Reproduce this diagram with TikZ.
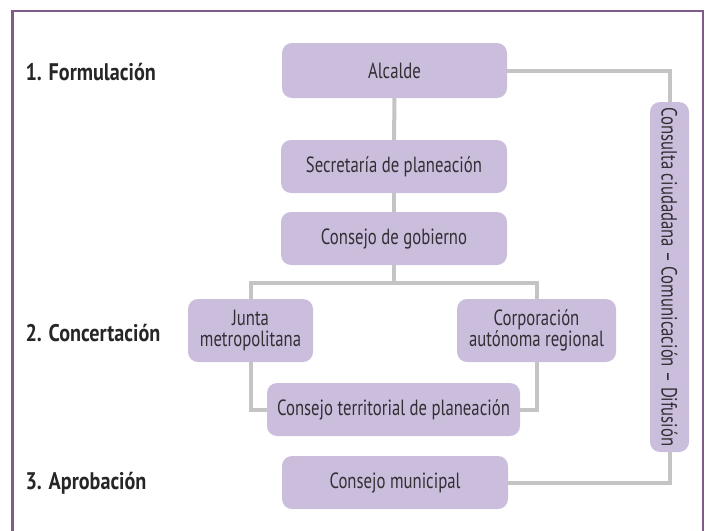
\documentclass[tikz,border=0pt]{standalone}
\usepackage{fontspec}
\setmainfont{PT Sans}[FakeStretch=0.76]
\newfontfamily\etapafont{PT Sans Bold}[FakeStretch=0.84]
\usetikzlibrary{calc,positioning}
\definecolor{PlanLila}{RGB}{203,190,221}
\definecolor{PlanGris}{RGB}{196,196,196}
\definecolor{PlanMarco}{RGB}{126,91,137}
\definecolor{PlanTexto}{RGB}{51,47,52}

\begin{document}
\begin{tikzpicture}[x=1pt,y=-1pt,
  caja/.style={fill=PlanLila,rounded corners=10pt,text=PlanTexto,font=\fontsize{22}{21}\selectfont,
    align=center,inner sep=0pt,minimum height=53pt},
  etapa/.style={anchor=west,text=black!85,font=\etapafont\fontsize{24}{26}\selectfont},
  enlace/.style={draw=PlanGris,line width=4pt}]
\useasboundingbox (0,0) rectangle (708,530);
\begin{scope}
\clip (0,0) rectangle (708,530);
\draw[PlanMarco,line width=2.5pt] (12.5,11) rectangle (703,560);
\end{scope}
% etapas
\node[etapa] (formulacion) at (22,72) {1. Formulación};
\node[etapa] (concertacion) at (22,333) {2. Concertación};
\node[etapa] (aprobacion) at (22,483) {3. Aprobación};
% cajas
\node[caja,minimum width=225pt,minimum height=55pt] (alcalde) at (394.5,70.5) {Alcalde};
\node[caja,minimum width=226pt] (secretaria) at (394,166.5) {Secretaría de planeación};
\node[caja,minimum width=226pt] (gobierno) at (394,238.5) {Consejo de gobierno};
\node[caja,minimum width=125pt,minimum height=63pt] (junta) at (250.5,330.5) {Junta\\metropolitana};
\node[caja,minimum width=159pt,minimum height=63pt] (corporacion) at (536.5,330.5) {Corporación\\autónoma regional};
\node[caja,minimum width=253pt] (territorial) at (393.5,409.5) {Consejo territorial de planeación};
\node[caja,minimum width=226pt] (municipal) at (395,482.5) {Consejo municipal};
\node[caja,minimum width=39pt,minimum height=350pt] (consulta) at (669.5,277) {\rotatebox{-90}{Consulta ciudadana -- Comunicación -- Difusión}};
% conectores
\draw[enlace] (alcalde) -- (secretaria);
\draw[enlace] (secretaria) -- (gobierno);
\draw[enlace] (gobierno.south) -- ++(0,18) -| (junta.north);
\draw[enlace] (gobierno.south) -- ++(0,18) -| (corporacion.north);
\draw[enlace] (junta.south) |- (territorial.west);
\draw[enlace] (corporacion.south) |- (territorial.east);
\draw[enlace] (alcalde.east) -| (consulta.north);
\draw[enlace] (consulta.south) |- (municipal.east);
\end{tikzpicture}
\end{document}
